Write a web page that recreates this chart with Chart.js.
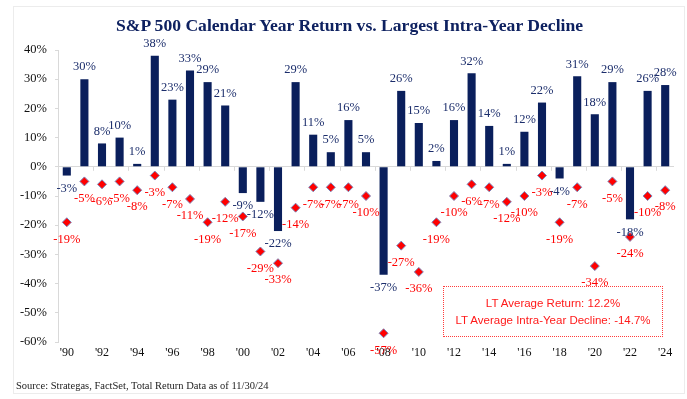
<!DOCTYPE html>
<html>
<head>
<meta charset="utf-8">
<script src="https://cdn.jsdelivr.net/npm/chart.js@4"></script>
<style>
  body { margin: 0; background: #fff; }
  #wrap { position: relative; width: 687px; height: 399px; overflow: hidden; }
  #frame { position: absolute; left: 13px; top: 6px; width: 670px; height: 386px; border: 1px solid #ececec; }
  #chartBox { position: absolute; left: 0; top: 0; width: 687px; height: 399px; }
  #title { position: absolute; left: 0; width: 699px; top: 15px; text-align: center;
    font: bold 17.6px "Liberation Serif", serif; color: #0e2160; }
  #note { position: absolute; left: 443px; top: 286px; width: 220px; height: 51px;
    border: 1px dotted #ff3b3b; color: #ff1a1a; font: 11.5px "Liberation Sans", sans-serif;
    text-align: center; line-height: 17px; box-sizing: border-box; padding-top: 8px; }
  #source { position: absolute; left: 16px; top: 380px; font: 10.5px "Liberation Serif", serif; color: #222; }
</style>
</head>
<body>
<div id="wrap">
  <div id="frame"></div>
  <div id="chartBox"><canvas id="chartCanvas"></canvas></div>
  <div id="title">S&amp;P 500 Calendar Year Return vs. Largest Intra-Year Decline</div>
  <div id="note">LT Average Return: 12.2%<br>LT Average Intra-Year Decline: -14.7%</div>
  <div id="source">Source: Strategas, FactSet, Total Return Data as of 11/30/24</div>
</div>
<script>
// one category per year, 1990 - 2024
var years = ["'90","'91","'92","'93","'94","'95","'96","'97","'98","'99",
             "'00","'01","'02","'03","'04","'05","'06","'07","'08","'09",
             "'10","'11","'12","'13","'14","'15","'16","'17","'18","'19",
             "'20","'21","'22","'23","'24"];
// only every other year gets a label on the axis
var xTickLabels = ["'90","'92","'94","'96","'98","'00","'02","'04","'06","'08",
                   "'10","'12","'14","'16","'18","'20","'22","'24"];
var calendarReturn = [-3,30,8,10,1,38,23,33,29,21,
                      -9,-12,-22,29,11,5,16,5,-37,26,
                      15,2,16,32,14,1,12,22,-4,31,
                      18,29,-18,26,28];
var intraYearDecline = [-19,-5,-6,-5,-8,-3,-7,-11,-19,-12,
                        -17,-29,-33,-14,-7,-7,-7,-10,-57,-27,
                        -36,-19,-10,-6,-7,-12,-10,-3,-19,-7,
                        -34,-5,-24,-10,-8];
var yTicks = [40,30,20,10,0,-10,-20,-30,-40,-50,-60];

var navy = '#0a1f5c';
var red = '#ff0000';

// value labels + little tick marks on the zero line
var labelPlugin = {
  id: 'labels',
  afterDatasetsDraw: function(chart) {
    var ctx = chart.ctx;
    var xs = chart.scales.x, ys = chart.scales.y;
    var y0 = ys.getPixelForValue(0);
    var step = xs.getPixelForValue(1) - xs.getPixelForValue(0);
    var left = xs.getPixelForValue(0) - step / 2;
    ctx.save();
    ctx.strokeStyle = '#d9d9d9';
    ctx.lineWidth = 1;
    for (var i = 2; i < years.length; i += 2) {
      var tx = Math.round(left + i * step) + 0.5;
      ctx.beginPath();
      ctx.moveTo(tx, y0);
      ctx.lineTo(tx, y0 + 4);
      ctx.stroke();
    }
    ctx.font = '12.5px "Liberation Serif", serif';
    ctx.textAlign = 'center';
    ctx.textBaseline = 'middle';
    var bars = chart.getDatasetMeta(0).data;
    ctx.fillStyle = '#1b2d6b';
    bars.forEach(function(b, i) {
      var v = calendarReturn[i];
      ctx.fillText(v + '%', b.x, v >= 0 ? b.y - 12 : b.y + 13);
    });
    var pts = chart.getDatasetMeta(1).data;
    ctx.fillStyle = red;
    pts.forEach(function(p, i) {
      ctx.fillText(intraYearDecline[i] + '%', p.x, p.y + 17);
    });
    ctx.restore();
  }
};

var ctx = document.getElementById('chartCanvas').getContext('2d');
var chart = new Chart(ctx, {
  type: 'bar',
  data: {
    labels: years,
    datasets: [
      {
        label: 'Calendar Year Return',
        data: calendarReturn,
        backgroundColor: navy,
        borderWidth: 0,
        barPercentage: 0.46,
        categoryPercentage: 1.0,
        order: 2
      },
      {
        type: 'line',
        label: 'Largest Intra-Year Decline',
        data: intraYearDecline,
        showLine: false,
        pointStyle: 'rectRot',
        pointRadius: 4.5,
        pointBackgroundColor: red,
        pointBorderColor: '#7c84b8',
        pointBorderWidth: 1,
        order: 1
      }
    ]
  },
  options: {
    responsive: true,
    maintainAspectRatio: false,
    animation: false,
    layout: { padding: { left: 14, right: 13, top: 50, bottom: 37 } },
    plugins: {
      legend: { display: false },
      tooltip: { enabled: false }
    },
    scales: {
      x: {
        grid: { display: false, drawTicks: false },
        border: { display: false },
        afterFit: function(s) { s.height = 20; },
        ticks: {
          autoSkip: false,
          maxRotation: 0,
          padding: 4,
          color: '#111',
          font: { family: '"Liberation Serif", serif', size: 12 },
          callback: function(v, i) {
            var l = years[i];
            return xTickLabels.indexOf(l) >= 0 ? l : '';
          }
        }
      },
      y: {
        min: -60,
        max: 40,
        afterFit: function(s) { s.width = 44; },
        afterBuildTicks: function(s) {
          s.ticks = yTicks.map(function(v) { return { value: v }; });
        },
        border: { color: '#d9d9d9' },
        grid: {
          color: function(c) { return c.tick && c.tick.value === 0 ? '#d9d9d9' : 'rgba(0,0,0,0)'; },
          tickColor: '#d9d9d9',
          tickLength: 3,
          lineWidth: 1
        },
        ticks: {
          padding: 8,
          color: '#111',
          font: { family: '"Liberation Serif", serif', size: 12.5 },
          callback: function(v) { return v + '%'; }
        }
      }
    }
  },
  plugins: [labelPlugin]
});
</script>
</body>
</html>
